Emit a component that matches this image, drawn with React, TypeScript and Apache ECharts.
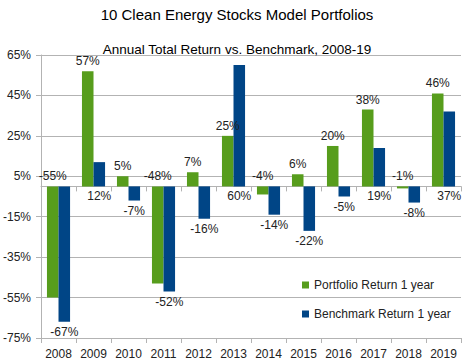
import React, { useEffect, useRef } from "react";
import * as echarts from "echarts";

const years = ["2008", "2009", "2010", "2011", "2012", "2013", "2014", "2015", "2016", "2017", "2018", "2019"];
const portfolio = [-55, 57, 5, -48, 7, 25, -4, 6, 20, 38, -1, 46];
const benchmark = [-67, 12, -7, -52, -16, 60, -14, -22, -5, 19, -8, 37];
const seriesNames = ["Portfolio Return 1 year", "Benchmark Return 1 year"];

const FONT = "Liberation Sans, Arial, sans-serif";

export default function App() {
  const ref = useRef<HTMLDivElement>(null);
  useEffect(() => {
    if (!ref.current) return;
    const chart = echarts.init(ref.current, null, { renderer: "svg" });
    chart.setOption({
      animation: false,
      backgroundColor: "#ffffff",
      textStyle: { fontFamily: FONT },
      title: [
        {
          text: "10 Clean Energy Stocks Model Portfolios",
          left: "center",
          top: 2,
          textStyle: { fontFamily: FONT, fontSize: 15, fontWeight: "normal", color: "#000" },
        },
        {
          text: "Annual Total Return vs. Benchmark, 2008-19",
          left: "center",
          top: 37,
          textStyle: { fontFamily: FONT, fontSize: 13.5, fontWeight: "normal", color: "#000" },
        },
      ],
      legend: {
        orient: "vertical",
        left: 297,
        top: 274,
        itemWidth: 7,
        itemHeight: 7,
        itemGap: 17,
        icon: "rect",
        data: seriesNames,
        textStyle: { fontFamily: FONT, fontSize: 12, color: "#222" },
      },
      grid: { left: 38, right: 13, top: 55, bottom: 25, containLabel: false },
      xAxis: [
        {
          type: "category",
          data: years,
          position: "bottom",
          axisLine: { onZero: false, lineStyle: { color: "#b3b3b3" } },
          axisTick: { show: true, length: 5, lineStyle: { color: "#b3b3b3" } },
          axisLabel: { fontFamily: FONT, fontSize: 12, color: "#222", margin: 10 },
        },
        {
          type: "category",
          data: years,
          position: "bottom",
          axisLine: { onZero: true, lineStyle: { color: "#b3b3b3" } },
          axisTick: { show: true, length: 5, lineStyle: { color: "#b3b3b3" } },
          axisLabel: { show: false },
        },
      ],
      yAxis: {
        type: "value",
        min: -75,
        max: 65,
        interval: 20,
        axisLine: { show: true, lineStyle: { color: "#b3b3b3" } },
        axisTick: { show: true, length: 5, lineStyle: { color: "#b3b3b3" } },
        splitLine: { show: true, lineStyle: { color: "#b3b3b3" } },
        axisLabel: { formatter: "{value}%", fontFamily: FONT, fontSize: 12, color: "#222", margin: 10 },
      },
      series: [
        {
          name: seriesNames[0],
          type: "bar",
          xAxisIndex: 0,
          data: portfolio,
          barGap: "0%",
          barCategoryGap: "34%",
          itemStyle: { color: "#579d1c" },
          label: {
            show: true,
            position: "top",
            distance: 4,
            formatter: "{c}%",
            fontFamily: FONT,
            fontSize: 12,
            color: "#222",
          },
        },
        {
          name: seriesNames[1],
          type: "bar",
          xAxisIndex: 0,
          data: benchmark,
          barGap: "0%",
          barCategoryGap: "34%",
          itemStyle: { color: "#004586" },
          label: {
            show: true,
            position: "bottom",
            distance: 4,
            formatter: "{c}%",
            fontFamily: FONT,
            fontSize: 12,
            color: "#222",
          },
        },
      ],
    });
    return () => chart.dispose();
  }, []);
  return (
    <div
      ref={ref}
      style={{ position: "absolute", left: 0, top: 0, width: 474, height: 363 }}
    />
  );
}
